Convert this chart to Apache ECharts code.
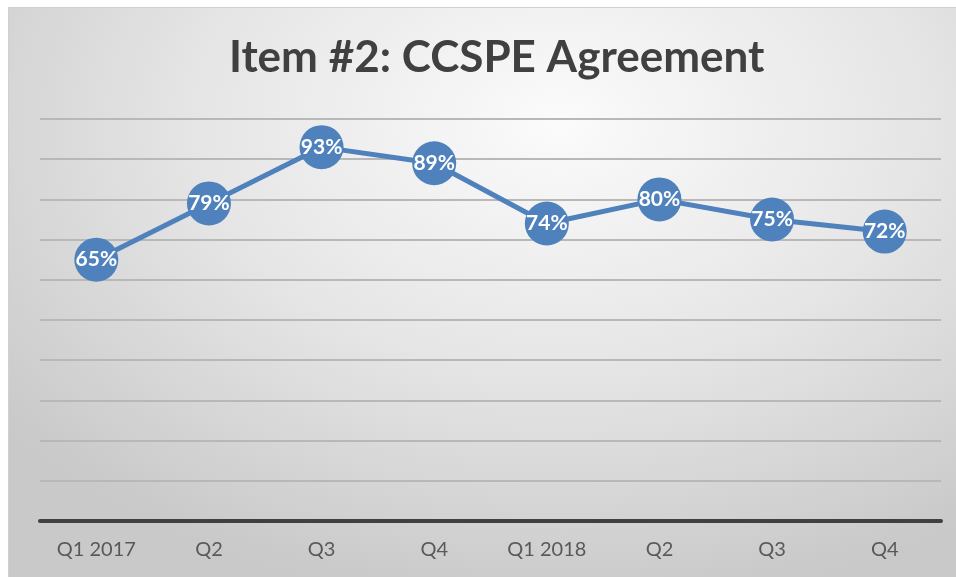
<!DOCTYPE html>
<html>
<head>
<meta charset="utf-8">
<script src="https://cdn.jsdelivr.net/npm/echarts@6/dist/echarts.min.js"></script>
<style>
html, body { margin: 0; padding: 0; background: #fff; }
#main {
  position: absolute;
  left: 8px;
  top: 7px;
  width: 948px;
  height: 570px;
  border-left: 1px solid #d0d0d0;
  border-top: 1px solid #d0d0d0;
  box-sizing: border-box;
  background: radial-gradient(ellipse 75% 85% at 58% 20%, #fbfbfb 0%, #e6e6e6 50%, #c9c9c9 100%);
}
</style>
</head>
<body>
<div id="main"></div>
<script>
const categories = ['Q1 2017', 'Q2', 'Q3', 'Q4', 'Q1 2018', 'Q2', 'Q3', 'Q4']
const agreement = [65, 79, 93, 89, 74, 80, 75, 72]

const chart = echarts.init(document.getElementById('main'))

const option = {
  backgroundColor: 'transparent',
  title: {
    text: 'Item #2: CCSPE Agreement',
    left: 215,
    top: 23,
    textStyle: {
      fontFamily: 'Lato',
      fontWeight: 'bold',
      fontSize: 44,
      color: '#404040'
    }
  },
  grid: {
    left: 31,
    right: 15,
    top: 111,
    bottom: 56
  },
  xAxis: {
    type: 'category',
    data: categories,
    boundaryGap: true,
    axisTick: { show: false },
    axisLine: {
      lineStyle: { color: '#404040', width: 4 }
    },
    axisLabel: {
      margin: 19,
      fontFamily: 'Lato',
      fontSize: 20,
      color: '#595959'
    }
  },
  yAxis: {
    type: 'value',
    min: 0,
    max: 100,
    interval: 10,
    axisLabel: { show: false },
    axisLine: { show: false },
    axisTick: { show: false },
    splitLine: {
      lineStyle: { color: '#b8b8b8', width: 2 }
    }
  },
  series: [
    {
      type: 'line',
      data: agreement,
      symbol: 'circle',
      symbolSize: 44,
      lineStyle: { color: '#4f81bd', width: 5 },
      itemStyle: { color: '#4f81bd' },
      label: {
        show: true,
        position: 'inside',
        formatter: '{c}%',
        fontFamily: 'Lato',
        fontWeight: 'bold',
        fontSize: 21,
        color: '#ffffff'
      },
      animation: false
    }
  ]
}

chart.setOption(option)
</script>
</body>
</html>
